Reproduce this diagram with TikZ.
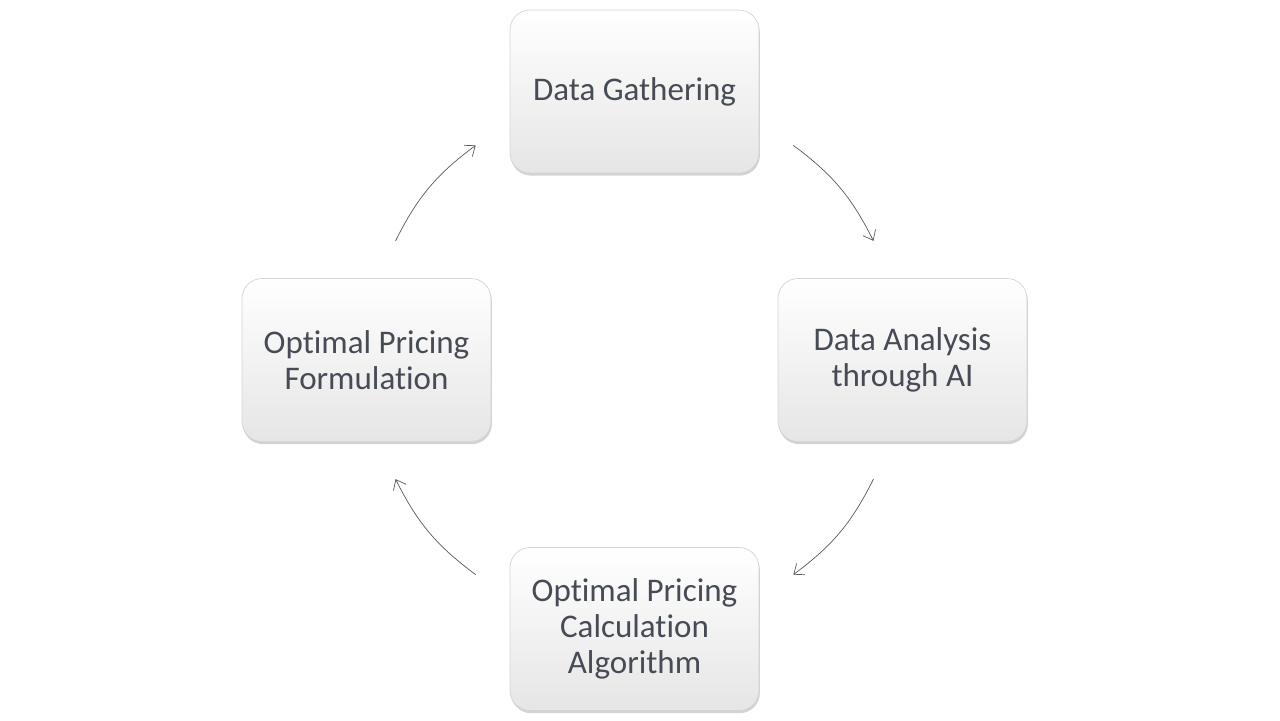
\documentclass[tikz,border=0pt]{standalone}
\usepackage{fontspec}
\setmainfont{Carlito}[Ligatures=NoCommon]
\usepackage{xcolor}
\usepackage{tikz}
\usetikzlibrary{calc,arrows.meta,shadows}
\definecolor{boxtext}{HTML}{464B55}
\definecolor{boxline}{HTML}{D4D4D4}
\definecolor{flow}{HTML}{555A60}

\begin{document}
\begin{tikzpicture}[x=0.02cm, y=0.02cm,
  stage/.style={draw=boxline, rounded corners=0.4cm, top color=white, bottom color=black!10,
    minimum width=4.98cm, minimum height=3.26cm, align=center, text=boxtext,
    font=\fontsize{18.8}{20.6}\selectfont,
    drop shadow={shadow xshift=0.5pt, shadow yshift=-1.5pt, opacity=0.35}},
  flowarrow/.style={-{Straight Barb[length=5pt, width=8pt]}, flow, thin}]
\useasboundingbox (-634.5,-360) rectangle (645.5,360);
\coordinate (c) at (0,0);
% four stages round the cycle
\node[stage] (gather) at (0,268.5) {Data Gathering};
\node[stage] (analysis) at (268,0) {Data Analysis\\through AI};
\node[stage] (calc) at (0,-269) {Optimal Pricing\\Calculation\\Algorithm};
\node[stage] (formul) at (-268,0) {Optimal Pricing\\Formulation};
% arrow ends on a circle round the middle
\foreach \n/\a in {q1s/53.5, q1e/26.5, q4s/-26.5, q4e/-53.5, q3s/-126.5, q3e/-153.5, q2s/153.5, q2e/126.5} {
  \coordinate (\n) at ($(c)+(\a:267)$);
}
\draw[flowarrow] (q1s) to[bend left=13.5] (q1e);
\draw[flowarrow] (q4s) to[bend left=13.5] (q4e);
\draw[flowarrow] (q3s) to[bend left=13.5] (q3e);
\draw[flowarrow] (q2s) to[bend left=13.5] (q2e);
\end{tikzpicture}
\end{document}
